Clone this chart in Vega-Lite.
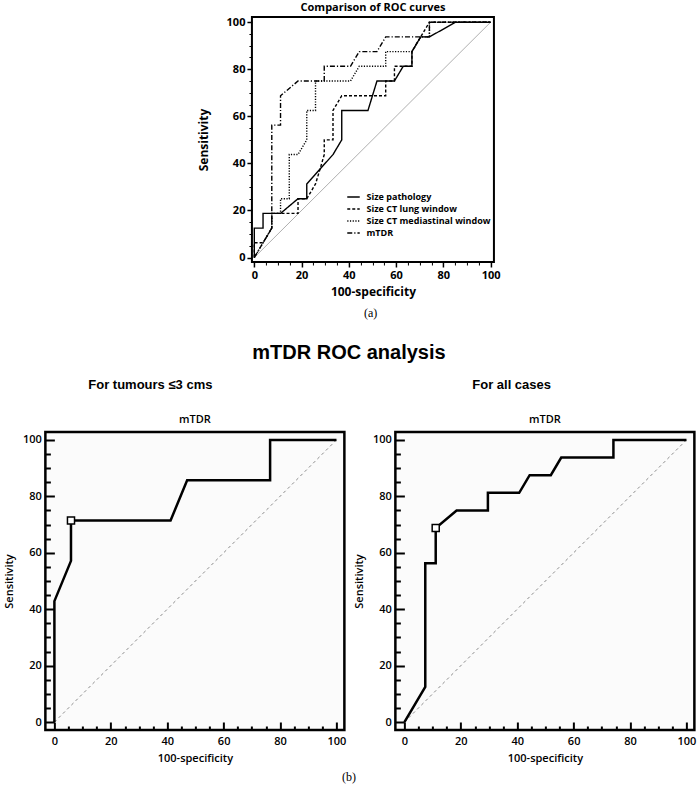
{
  "$schema": "https://vega.github.io/schema/vega-lite/v6.json",
  "background": "white",
  "padding": {"left": 2, "right": 0, "top": 1, "bottom": 0},
  "config": {"view": {"stroke": null}, "title": {"color": "black"}},
  "title": {"text": "(b)", "orient": "bottom", "anchor": "middle", "font": "Liberation Serif", "fontSize": 12, "fontWeight": "normal", "offset": 8, "dx": -6},
  "spacing": 23,
  "center": true,
  "datasets": {
    "diag": [{"x": 0, "y": 0}, {"x": 100, "y": 100}],
    "top": [
      {"s": "Size pathology", "i": 0, "x": 0, "y": 0},
      {"s": "Size pathology", "i": 1, "x": 0, "y": 12.5},
      {"s": "Size pathology", "i": 2, "x": 3.7, "y": 12.5},
      {"s": "Size pathology", "i": 3, "x": 3.7, "y": 18.75},
      {"s": "Size pathology", "i": 4, "x": 11.1, "y": 18.75},
      {"s": "Size pathology", "i": 5, "x": 18.5, "y": 25},
      {"s": "Size pathology", "i": 6, "x": 22.2, "y": 25},
      {"s": "Size pathology", "i": 7, "x": 22.2, "y": 31.25},
      {"s": "Size pathology", "i": 8, "x": 33.3, "y": 43.75},
      {"s": "Size pathology", "i": 9, "x": 37, "y": 50},
      {"s": "Size pathology", "i": 10, "x": 37, "y": 62.5},
      {"s": "Size pathology", "i": 11, "x": 48.1, "y": 62.5},
      {"s": "Size pathology", "i": 12, "x": 51.9, "y": 75},
      {"s": "Size pathology", "i": 13, "x": 59.3, "y": 75},
      {"s": "Size pathology", "i": 14, "x": 63, "y": 81.25},
      {"s": "Size pathology", "i": 15, "x": 66.7, "y": 81.25},
      {"s": "Size pathology", "i": 16, "x": 66.7, "y": 87.5},
      {"s": "Size pathology", "i": 17, "x": 70.4, "y": 93.75},
      {"s": "Size pathology", "i": 18, "x": 74.1, "y": 93.75},
      {"s": "Size pathology", "i": 19, "x": 85.2, "y": 100},
      {"s": "Size pathology", "i": 20, "x": 100, "y": 100},
      {"s": "Size CT lung window", "i": 0, "x": 0, "y": 0},
      {"s": "Size CT lung window", "i": 1, "x": 0, "y": 6.25},
      {"s": "Size CT lung window", "i": 2, "x": 3.7, "y": 6.25},
      {"s": "Size CT lung window", "i": 3, "x": 7.4, "y": 12.5},
      {"s": "Size CT lung window", "i": 4, "x": 7.4, "y": 18.75},
      {"s": "Size CT lung window", "i": 5, "x": 18.5, "y": 18.75},
      {"s": "Size CT lung window", "i": 6, "x": 18.5, "y": 25},
      {"s": "Size CT lung window", "i": 7, "x": 22.2, "y": 25},
      {"s": "Size CT lung window", "i": 8, "x": 25.9, "y": 31.25},
      {"s": "Size CT lung window", "i": 9, "x": 27.8, "y": 37.5},
      {"s": "Size CT lung window", "i": 10, "x": 29.6, "y": 43.75},
      {"s": "Size CT lung window", "i": 11, "x": 29.6, "y": 50},
      {"s": "Size CT lung window", "i": 12, "x": 33.3, "y": 50},
      {"s": "Size CT lung window", "i": 13, "x": 33.3, "y": 62.5},
      {"s": "Size CT lung window", "i": 14, "x": 37, "y": 68.75},
      {"s": "Size CT lung window", "i": 15, "x": 55.6, "y": 68.75},
      {"s": "Size CT lung window", "i": 16, "x": 55.6, "y": 75},
      {"s": "Size CT lung window", "i": 17, "x": 59.3, "y": 75},
      {"s": "Size CT lung window", "i": 18, "x": 59.3, "y": 81.25},
      {"s": "Size CT lung window", "i": 19, "x": 66.7, "y": 81.25},
      {"s": "Size CT lung window", "i": 20, "x": 66.7, "y": 87.5},
      {"s": "Size CT lung window", "i": 21, "x": 74.1, "y": 100},
      {"s": "Size CT lung window", "i": 22, "x": 100, "y": 100},
      {"s": "Size CT mediastinal window", "i": 0, "x": 0, "y": 0},
      {"s": "Size CT mediastinal window", "i": 1, "x": 7.4, "y": 12.5},
      {"s": "Size CT mediastinal window", "i": 2, "x": 7.4, "y": 18.75},
      {"s": "Size CT mediastinal window", "i": 3, "x": 11.1, "y": 18.75},
      {"s": "Size CT mediastinal window", "i": 4, "x": 11.1, "y": 25},
      {"s": "Size CT mediastinal window", "i": 5, "x": 14.8, "y": 25},
      {"s": "Size CT mediastinal window", "i": 6, "x": 14.8, "y": 43.75},
      {"s": "Size CT mediastinal window", "i": 7, "x": 18.5, "y": 43.75},
      {"s": "Size CT mediastinal window", "i": 8, "x": 22.2, "y": 50},
      {"s": "Size CT mediastinal window", "i": 9, "x": 22.2, "y": 62.5},
      {"s": "Size CT mediastinal window", "i": 10, "x": 25.9, "y": 62.5},
      {"s": "Size CT mediastinal window", "i": 11, "x": 25.9, "y": 75},
      {"s": "Size CT mediastinal window", "i": 12, "x": 40.7, "y": 75},
      {"s": "Size CT mediastinal window", "i": 13, "x": 44.4, "y": 81.25},
      {"s": "Size CT mediastinal window", "i": 14, "x": 55.6, "y": 81.25},
      {"s": "Size CT mediastinal window", "i": 15, "x": 55.6, "y": 87.5},
      {"s": "Size CT mediastinal window", "i": 16, "x": 66.7, "y": 87.5},
      {"s": "Size CT mediastinal window", "i": 17, "x": 70.4, "y": 93.75},
      {"s": "Size CT mediastinal window", "i": 18, "x": 74.1, "y": 93.75},
      {"s": "Size CT mediastinal window", "i": 19, "x": 74.1, "y": 100},
      {"s": "Size CT mediastinal window", "i": 20, "x": 100, "y": 100},
      {"s": "mTDR", "i": 0, "x": 0, "y": 0},
      {"s": "mTDR", "i": 1, "x": 7.4, "y": 12.5},
      {"s": "mTDR", "i": 2, "x": 7.4, "y": 56.25},
      {"s": "mTDR", "i": 3, "x": 11.1, "y": 56.25},
      {"s": "mTDR", "i": 4, "x": 11.1, "y": 68.75},
      {"s": "mTDR", "i": 5, "x": 18.5, "y": 75},
      {"s": "mTDR", "i": 6, "x": 29.6, "y": 75},
      {"s": "mTDR", "i": 7, "x": 29.6, "y": 81.25},
      {"s": "mTDR", "i": 8, "x": 40.7, "y": 81.25},
      {"s": "mTDR", "i": 9, "x": 44.4, "y": 87.5},
      {"s": "mTDR", "i": 10, "x": 51.9, "y": 87.5},
      {"s": "mTDR", "i": 11, "x": 55.6, "y": 93.75},
      {"s": "mTDR", "i": 12, "x": 74.1, "y": 93.75},
      {"s": "mTDR", "i": 13, "x": 74.1, "y": 100},
      {"s": "mTDR", "i": 14, "x": 100, "y": 100}
    ],
    "small": [
      {"i": 0, "x": 0, "y": 0},
      {"i": 1, "x": 0, "y": 42.86},
      {"i": 2, "x": 5.88, "y": 57.14},
      {"i": 3, "x": 5.88, "y": 71.43},
      {"i": 4, "x": 41.18, "y": 71.43},
      {"i": 5, "x": 47.06, "y": 85.71},
      {"i": 6, "x": 76.47, "y": 85.71},
      {"i": 7, "x": 76.47, "y": 100},
      {"i": 8, "x": 100, "y": 100}
    ],
    "all": [
      {"i": 0, "x": 0, "y": 0},
      {"i": 1, "x": 7.4, "y": 12.5},
      {"i": 2, "x": 7.4, "y": 56.25},
      {"i": 3, "x": 11.1, "y": 56.25},
      {"i": 4, "x": 11.1, "y": 68.75},
      {"i": 5, "x": 18.5, "y": 75},
      {"i": 6, "x": 29.6, "y": 75},
      {"i": 7, "x": 29.6, "y": 81.25},
      {"i": 8, "x": 40.7, "y": 81.25},
      {"i": 9, "x": 44.4, "y": 87.5},
      {"i": 10, "x": 51.9, "y": 87.5},
      {"i": 11, "x": 55.6, "y": 93.75},
      {"i": 12, "x": 74.1, "y": 93.75},
      {"i": 13, "x": 74.1, "y": 100},
      {"i": 14, "x": 100, "y": 100}
    ],
    "optSmall": [{"x": 5.88, "y": 71.43}],
    "optAll": [{"x": 11.1, "y": 68.75}]
  },
  "vconcat": [
    {
      "title": {"text": "(a)", "orient": "bottom", "anchor": "middle", "frame": "bounds", "dx": 22, "font": "Liberation Serif", "fontSize": 12, "fontWeight": "normal", "offset": 10},
      "vconcat": [
        {
          "width": 242,
          "height": 245,
          "title": {"text": "Comparison of ROC curves", "anchor": "middle", "font": "Open Sans", "fontSize": 11, "fontWeight": "bold", "offset": 3},
          "view": {"stroke": "black", "strokeWidth": 2},
          "resolve": {"axis": {"x": "independent", "y": "independent"}},
          "layer": [
            {
              "data": {"name": "diag"},
              "mark": {"type": "line", "color": "#9a9a9a", "strokeWidth": 0.8},
              "encoding": {
                "x": {"field": "x", "type": "quantitative", "scale": {"domain": [-1, 101.4], "nice": false, "zero": false},
                  "axis": {"orient": "bottom", "values": [0, 20, 40, 60, 80, 100], "domain": false, "grid": false, "tickSize": 5, "tickWidth": 1.5, "tickColor": "black", "labelFont": "Open Sans", "labelFontWeight": "bold", "labelFontSize": 11, "labelColor": "black", "labelPadding": 2, "title": "100-specificity", "titleFont": "Open Sans", "titleFontSize": 12, "titleFontWeight": "bold", "titleColor": "black", "titlePadding": 6}},
                "y": {"field": "y", "type": "quantitative", "scale": {"domain": [-1.9, 102.2], "nice": false, "zero": false},
                  "axis": {"orient": "left", "values": [0, 20, 40, 60, 80, 100], "domain": false, "grid": false, "tickSize": 5, "tickWidth": 1.5, "tickColor": "black", "labelFont": "Open Sans", "labelFontWeight": "bold", "labelFontSize": 11, "labelColor": "black", "labelPadding": 2, "title": "Sensitivity", "titleFont": "Open Sans", "titleFontSize": 12, "titleFontWeight": "bold", "titleColor": "black", "titlePadding": 16}}
              }
            },
            {
              "data": {"name": "top"},
              "mark": {"type": "line", "color": "black", "strokeWidth": 1.4},
              "encoding": {
                "x": {"field": "x", "type": "quantitative", "scale": {"domain": [-1, 101.4], "nice": false, "zero": false},
                  "axis": {"orient": "bottom", "values": [5, 10, 15, 25, 30, 35, 45, 50, 55, 65, 70, 75, 85, 90, 95], "domain": false, "grid": false, "tickSize": 3, "tickWidth": 1, "tickColor": "black", "labels": false, "title": null}},
                "y": {"field": "y", "type": "quantitative", "scale": {"domain": [-1.9, 102.2], "nice": false, "zero": false},
                  "axis": {"orient": "left", "values": [5, 10, 15, 25, 30, 35, 45, 50, 55, 65, 70, 75, 85, 90, 95], "domain": false, "grid": false, "tickSize": 3, "tickWidth": 1, "tickColor": "black", "labels": false, "title": null}},
                "order": {"field": "i", "type": "quantitative"},
                "strokeDash": {"field": "s", "type": "nominal",
                  "scale": {"domain": ["Size pathology", "Size CT lung window", "Size CT mediastinal window", "mTDR"], "range": [[1, 0], [3, 2], [1.2, 1.5], [5, 2, 1.2, 2]]},
                  "legend": {"orient": "none", "legendX": 301.5, "legendY": 173, "title": null, "symbolType": "stroke", "symbolSize": 156, "symbolStrokeWidth": 1.5, "symbolStrokeColor": "black", "labelFont": "Open Sans", "labelFontWeight": "bold", "labelFontSize": 9, "labelColor": "black", "labelOffset": 6, "rowPadding": 0, "padding": 0}}
              }
            }
          ]
        }
      ]
    },
    {
      "title": {"text": "mTDR ROC analysis", "anchor": "middle", "frame": "bounds", "dx": -6, "font": "Liberation Sans", "fontSize": 20, "fontWeight": "bold", "offset": 16},
      "spacing": 4,
      "hconcat": [
        {
          "title": {"text": "For tumours ≤3 cms", "anchor": "start", "frame": "bounds", "font": "Liberation Sans", "fontSize": 13, "fontWeight": "bold", "dx": 86, "offset": 21},
          "vconcat": [
            {
              "width": 299,
              "height": 298,
              "title": {"text": "mTDR", "anchor": "middle", "font": "Open Sans", "fontSize": 11, "fontWeight": 600, "offset": 7},
              "view": {"stroke": "black", "strokeWidth": 2.5, "fill": "#fbfbfb"},
              "resolve": {"axis": {"x": "independent", "y": "independent"}},
              "layer": [
                {
                  "data": {"name": "diag"},
                  "mark": {"type": "line", "color": "#8a8a8a", "strokeWidth": 1, "strokeDash": [3, 3]},
                  "encoding": {
                    "x": {"field": "x", "type": "quantitative", "scale": {"domain": [-3.2, 102.8], "nice": false, "zero": false},
                      "axis": {"orient": "bottom", "values": [0, 20, 40, 60, 80, 100], "domain": false, "grid": false, "tickSize": -8, "tickWidth": 2, "tickColor": "black", "labelFont": "Open Sans", "labelFontWeight": 600, "labelFontSize": 11, "labelColor": "black", "labelPadding": 13, "title": "100-specificity", "titleFont": "Open Sans", "titleFontSize": 11, "titleFontWeight": 600, "titleColor": "black", "titlePadding": 6}},
                    "y": {"field": "y", "type": "quantitative", "scale": {"domain": [-2.8, 102.8], "nice": false, "zero": false},
                      "axis": {"orient": "left", "values": [0, 20, 40, 60, 80, 100], "domain": false, "grid": false, "tickSize": -9, "tickWidth": 2, "tickColor": "black", "labelFont": "Open Sans", "labelFontWeight": 600, "labelFontSize": 11, "labelColor": "black", "labelPadding": 13, "title": "Sensitivity", "titleFont": "Open Sans", "titleFontSize": 11, "titleFontWeight": 600, "titleColor": "black", "titlePadding": 8}}
                  }
                },
                {
                  "data": {"name": "small"},
                  "mark": {"type": "line", "color": "black", "strokeWidth": 2.5},
                  "encoding": {
                    "x": {"field": "x", "type": "quantitative", "scale": {"domain": [-3.2, 102.8], "nice": false, "zero": false},
                      "axis": {"orient": "bottom", "values": [5, 10, 15, 25, 30, 35, 45, 50, 55, 65, 70, 75, 85, 90, 95], "domain": false, "grid": false, "tickSize": -4, "tickWidth": 2, "tickColor": "black", "labels": false, "title": null}},
                    "y": {"field": "y", "type": "quantitative", "scale": {"domain": [-2.8, 102.8], "nice": false, "zero": false},
                      "axis": {"orient": "left", "values": [5, 10, 15, 25, 30, 35, 45, 50, 55, 65, 70, 75, 85, 90, 95], "domain": false, "grid": false, "tickSize": -5, "tickWidth": 2, "tickColor": "black", "labels": false, "title": null}},
                    "order": {"field": "i", "type": "quantitative"}
                  }
                },
                {
                  "data": {"name": "optSmall"},
                  "mark": {"type": "point", "shape": "square", "size": 50, "filled": true, "fill": "white", "stroke": "black", "strokeWidth": 1.5, "opacity": 1},
                  "encoding": {
                    "x": {"field": "x", "type": "quantitative", "axis": null},
                    "y": {"field": "y", "type": "quantitative", "axis": null}
                  }
                }
              ]
            }
          ]
        },
        {
          "title": {"text": "For all cases", "anchor": "start", "frame": "bounds", "font": "Liberation Sans", "fontSize": 13, "fontWeight": "bold", "dx": 120, "offset": 21},
          "vconcat": [
            {
              "width": 299,
              "height": 298,
              "title": {"text": "mTDR", "anchor": "middle", "font": "Open Sans", "fontSize": 11, "fontWeight": 600, "offset": 7},
              "view": {"stroke": "black", "strokeWidth": 2.5, "fill": "#fbfbfb"},
              "resolve": {"axis": {"x": "independent", "y": "independent"}},
              "layer": [
                {
                  "data": {"name": "diag"},
                  "mark": {"type": "line", "color": "#8a8a8a", "strokeWidth": 1, "strokeDash": [3, 3]},
                  "encoding": {
                    "x": {"field": "x", "type": "quantitative", "scale": {"domain": [-3.2, 102.8], "nice": false, "zero": false},
                      "axis": {"orient": "bottom", "values": [0, 20, 40, 60, 80, 100], "domain": false, "grid": false, "tickSize": -8, "tickWidth": 2, "tickColor": "black", "labelFont": "Open Sans", "labelFontWeight": 600, "labelFontSize": 11, "labelColor": "black", "labelPadding": 13, "title": "100-specificity", "titleFont": "Open Sans", "titleFontSize": 11, "titleFontWeight": 600, "titleColor": "black", "titlePadding": 6}},
                    "y": {"field": "y", "type": "quantitative", "scale": {"domain": [-2.8, 102.8], "nice": false, "zero": false},
                      "axis": {"orient": "left", "values": [0, 20, 40, 60, 80, 100], "domain": false, "grid": false, "tickSize": -9, "tickWidth": 2, "tickColor": "black", "labelFont": "Open Sans", "labelFontWeight": 600, "labelFontSize": 11, "labelColor": "black", "labelPadding": 13, "title": "Sensitivity", "titleFont": "Open Sans", "titleFontSize": 11, "titleFontWeight": 600, "titleColor": "black", "titlePadding": 8}}
                  }
                },
                {
                  "data": {"name": "all"},
                  "mark": {"type": "line", "color": "black", "strokeWidth": 2.5},
                  "encoding": {
                    "x": {"field": "x", "type": "quantitative", "scale": {"domain": [-3.2, 102.8], "nice": false, "zero": false},
                      "axis": {"orient": "bottom", "values": [5, 10, 15, 25, 30, 35, 45, 50, 55, 65, 70, 75, 85, 90, 95], "domain": false, "grid": false, "tickSize": -4, "tickWidth": 2, "tickColor": "black", "labels": false, "title": null}},
                    "y": {"field": "y", "type": "quantitative", "scale": {"domain": [-2.8, 102.8], "nice": false, "zero": false},
                      "axis": {"orient": "left", "values": [5, 10, 15, 25, 30, 35, 45, 50, 55, 65, 70, 75, 85, 90, 95], "domain": false, "grid": false, "tickSize": -5, "tickWidth": 2, "tickColor": "black", "labels": false, "title": null}},
                    "order": {"field": "i", "type": "quantitative"}
                  }
                },
                {
                  "data": {"name": "optAll"},
                  "mark": {"type": "point", "shape": "square", "size": 50, "filled": true, "fill": "white", "stroke": "black", "strokeWidth": 1.5, "opacity": 1},
                  "encoding": {
                    "x": {"field": "x", "type": "quantitative", "axis": null},
                    "y": {"field": "y", "type": "quantitative",
                      "axis": {"orient": "right", "values": [50], "tickSize": 12, "tickOpacity": 0, "labels": false, "domain": false, "grid": false, "title": null}}
                  }
                }
              ]
            }
          ]
        }
      ]
    }
  ]
}
